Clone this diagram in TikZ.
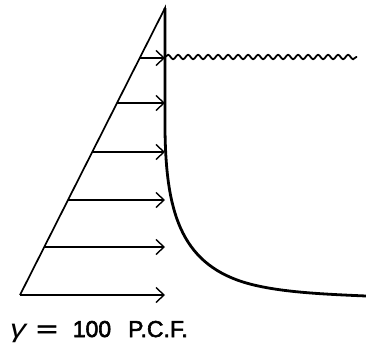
\documentclass[tikz,border=0pt]{standalone}
\usepackage{fontspec}
\setmainfont{Liberation Sans}
\newfontfamily\lblfont{Liberation Sans}[AutoFakeBold=2.5]
\usetikzlibrary{arrows.meta,decorations.pathmorphing}
\begin{document}
\begin{tikzpicture}[x=1pt,y=-1pt,
  tri/.style={line width=1.7pt,line join=miter},
  wall/.style={line width=2.8pt},
  force/.style={line width=1.4pt,-{Straight Barb[length=8pt,width=15pt,line width=1.4pt]}},
  water/.style={line width=1.8pt,decorate,decoration={snake,segment length=10pt,amplitude=2.2pt}},
  lbl/.style={anchor=base west,inner sep=0pt,font=\fontsize{23}{25}\lblfont\bfseries}]
\useasboundingbox (0,0) rectangle (366,348);
\coordinate (top) at (165,8);
\coordinate (bl) at (20,295);
\coordinate (br) at (165,295);
% triangle
\draw[tri] (bl) -- (top) -- (165,60);
% wall / ground curve
\draw[wall] (top) -- (165,130) .. controls (166,210) and (180,262) .. (243,282)
  .. controls (275,292) and (320,294) .. (366,296);
% water surface
\draw[water] (165,57) -- (357,57);
% force arrows
\foreach \y in {58,103,152,200,247} {
  \coordinate (s\y) at ({165-0.507*(\y-9)},\y);
  \coordinate (e\y) at (165,\y);
  \draw[force] (s\y) -- (e\y);
}
\draw[force] (bl) -- (br);
\node[lbl] (g) at (10,337) {\scalebox{1.4}[1.1]{\itshape γ}\hspace{10pt}\scalebox{1.6}[1]{=}\hspace{15pt}100\hspace{17pt}P.C.F.};
\end{tikzpicture}
\end{document}
